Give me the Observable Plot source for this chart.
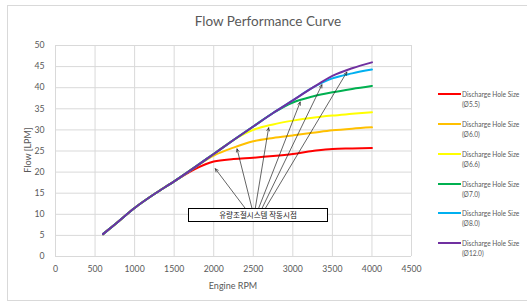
<!DOCTYPE html>
<html>
<head>
<meta charset="utf-8">
<script src="https://cdn.jsdelivr.net/npm/d3@7"></script>
<script src="https://cdn.jsdelivr.net/npm/@observablehq/plot@0.6"></script>
<style>
  html, body { margin: 0; padding: 0; background: #fff; }
  #wrap { position: relative; width: 527px; height: 304px; overflow: hidden; font-family: Lato, "Open Sans", sans-serif; }
  #frame { position: absolute; left: 7px; top: 5px; width: 540px; height: 296px; border: 1px solid #d9d9d9; box-sizing: border-box; }
  #title { position: absolute; left: 0; top: 13px; width: 536px; text-align: center; font-size: 13.5px; color: #595959; }
  #ylab { position: absolute; left: 27px; top: 150px; transform: translate(-50%, -50%) rotate(-90deg); font-size: 9px; color: #595959; white-space: nowrap; }
  #xlab { position: absolute; left: 233px; top: 285px; transform: translate(-50%, -50%); font-size: 9px; color: #595959; white-space: nowrap; }
  #legend { position: absolute; left: 438px; top: 0; }
  .li { position: absolute; left: 0; width: 90px; }
  .sw { position: absolute; left: 0; width: 23px; height: 2px; }
  .lt { position: absolute; left: 24px; top: -5px; font-size: 6.6px; line-height: 10px; color: #595959; white-space: nowrap; }
  #note { position: absolute; left: 188px; top: 208px; width: 140px; height: 14px; border: 1.3px solid #000; box-sizing: border-box; background: #fff; font-size: 7.5px; text-align: center; line-height: 12px; color: #222; font-family: "Noto Sans CJK KR", sans-serif; }
  #chart { position: absolute; left: 0; top: 0; }
</style>
</head>
<body>
<div id="wrap">
  <div id="frame"></div>
  <div id="chart"></div>
  <div id="title">Flow Performance Curve</div>
  <div id="ylab">Flow [LPM]</div>
  <div id="xlab">Engine RPM</div>
  <div id="note">유량조절시스템 작동시점</div>
  <div id="legend"></div>
</div>
<script>
// ---- data ----
const rpm = [600, 750, 1000, 1250, 1500, 1750, 2000, 2250, 2500, 2750, 3000, 3250, 3500, 3750, 4000];
const seriesNames = ["Discharge Hole Size (Ø5.5)", "Discharge Hole Size (Ø6.0)", "Discharge Hole Size (Ø6.6)", "Discharge Hole Size (Ø7.0)", "Discharge Hole Size (Ø8.0)", "Discharge Hole Size (Ø12.0)"];
const legendLine1 = "Discharge Hole Size";
const legendLine2 = ["(Ø5.5)", "(Ø6.0)", "(Ø6.6)", "(Ø7.0)", "(Ø8.0)", "(Ø12.0)"];
const colors = ["#ff0000", "#ffc000", "#ffff00", "#00b050", "#00b0f0", "#7030a0"];
const flow55  = [5.3, 7.6, 11.5, 14.8, 17.8, 20.6, 22.5, 23.1, 23.4, 23.8, 24.3, 25.0, 25.5, 25.6, 25.7];
const flow60  = [5.3, 7.6, 11.5, 14.8, 17.8, 21.0, 23.9, 25.8, 27.3, 28.1, 28.7, 29.3, 29.9, 30.3, 30.6];
const flow66  = [5.3, 7.6, 11.5, 14.8, 17.8, 21.0, 24.3, 27.6, 30.0, 31.3, 32.2, 32.9, 33.4, 33.8, 34.2];
const flow70  = [5.3, 7.6, 11.5, 14.8, 17.8, 21.0, 24.3, 27.6, 30.8, 34.0, 36.5, 37.9, 38.9, 39.7, 40.4];
const flow80  = [5.3, 7.6, 11.5, 14.8, 17.8, 21.0, 24.3, 27.6, 30.8, 34.0, 37.0, 40.0, 42.2, 43.4, 44.3];
const flow120 = [5.3, 7.6, 11.5, 14.8, 17.8, 21.0, 24.3, 27.6, 30.8, 34.0, 37.0, 40.0, 42.8, 44.6, 46.0];
const xTicks = [0, 500, 1000, 1500, 2000, 2500, 3000, 3500, 4000, 4500];
const yTicks = [0, 5, 10, 15, 20, 25, 30, 35, 40, 45, 50];
// annotation arrows (data units): tails at the note box, tips at the control onset points
const arrowTailX = [2399, 2484, 2525, 2567, 2610, 2652];
const arrowTailY = [11.4, 11.4, 11.4, 11.4, 11.4, 11.4];
const arrowTipX  = [2020, 2295, 2694, 3093, 3368, 3683];
const arrowTipY  = [20.8, 25.5, 30.5, 36.6, 40.7, 43.7];

// ---- build ----
const allFlows = [flow55, flow60, flow66, flow70, flow80, flow120];
const rows = [];
allFlows.forEach((arr, s) => arr.forEach((v, i) => rows.push({series: seriesNames[s], rpm: rpm[i], flow: v})));
const arrows = arrowTailX.map((x, i) => ({x1: x, y1: arrowTailY[i], x2: arrowTipX[i], y2: arrowTipY[i]}));

const plot = Plot.plot({
  width: 527,
  height: 304,
  marginLeft: 55,
  marginRight: 116,
  marginTop: 45,
  marginBottom: 48,
  style: {fontFamily: "Lato, 'Open Sans', sans-serif", fontSize: "8.7px", color: "#595959", background: "transparent"},
  x: {domain: [0, 4500], ticks: xTicks, tickFormat: d => String(d), tickSize: 0, tickPadding: 9, label: null, grid: false},
  y: {domain: [0, 50], ticks: yTicks, tickFormat: d => String(d), tickSize: 0, tickPadding: 11, label: null, grid: false},
  color: {domain: seriesNames, range: colors},
  marks: [
    Plot.ruleX(xTicks, {stroke: "#d9d9d9", strokeWidth: 1}),
    Plot.ruleY(yTicks, {stroke: "#d9d9d9", strokeWidth: 1}),
    Plot.line(rows, {x: "rpm", y: "flow", stroke: "series", z: "series", strokeWidth: 2, curve: "monotone-x"}),
    Plot.arrow(arrows, {x1: "x1", y1: "y1", x2: "x2", y2: "y2", stroke: "#222", strokeWidth: 0.7, headLength: 7, headAngle: 50, insetEnd: 0})
  ]
});
document.getElementById("chart").appendChild(plot);

// legend
const leg = document.getElementById("legend");
const legTop = [94, 124, 154, 184, 213, 243];
seriesNames.forEach((n, i) => {
  const d = document.createElement("div");
  d.className = "li";
  d.style.top = legTop[i] + "px";
  d.innerHTML = `<div class="sw" style="background:${colors[i]};top:-1px"></div><div class="lt">${legendLine1}<br>${legendLine2[i]}</div>`;
  leg.appendChild(d);
});
</script>
</body>
</html>
